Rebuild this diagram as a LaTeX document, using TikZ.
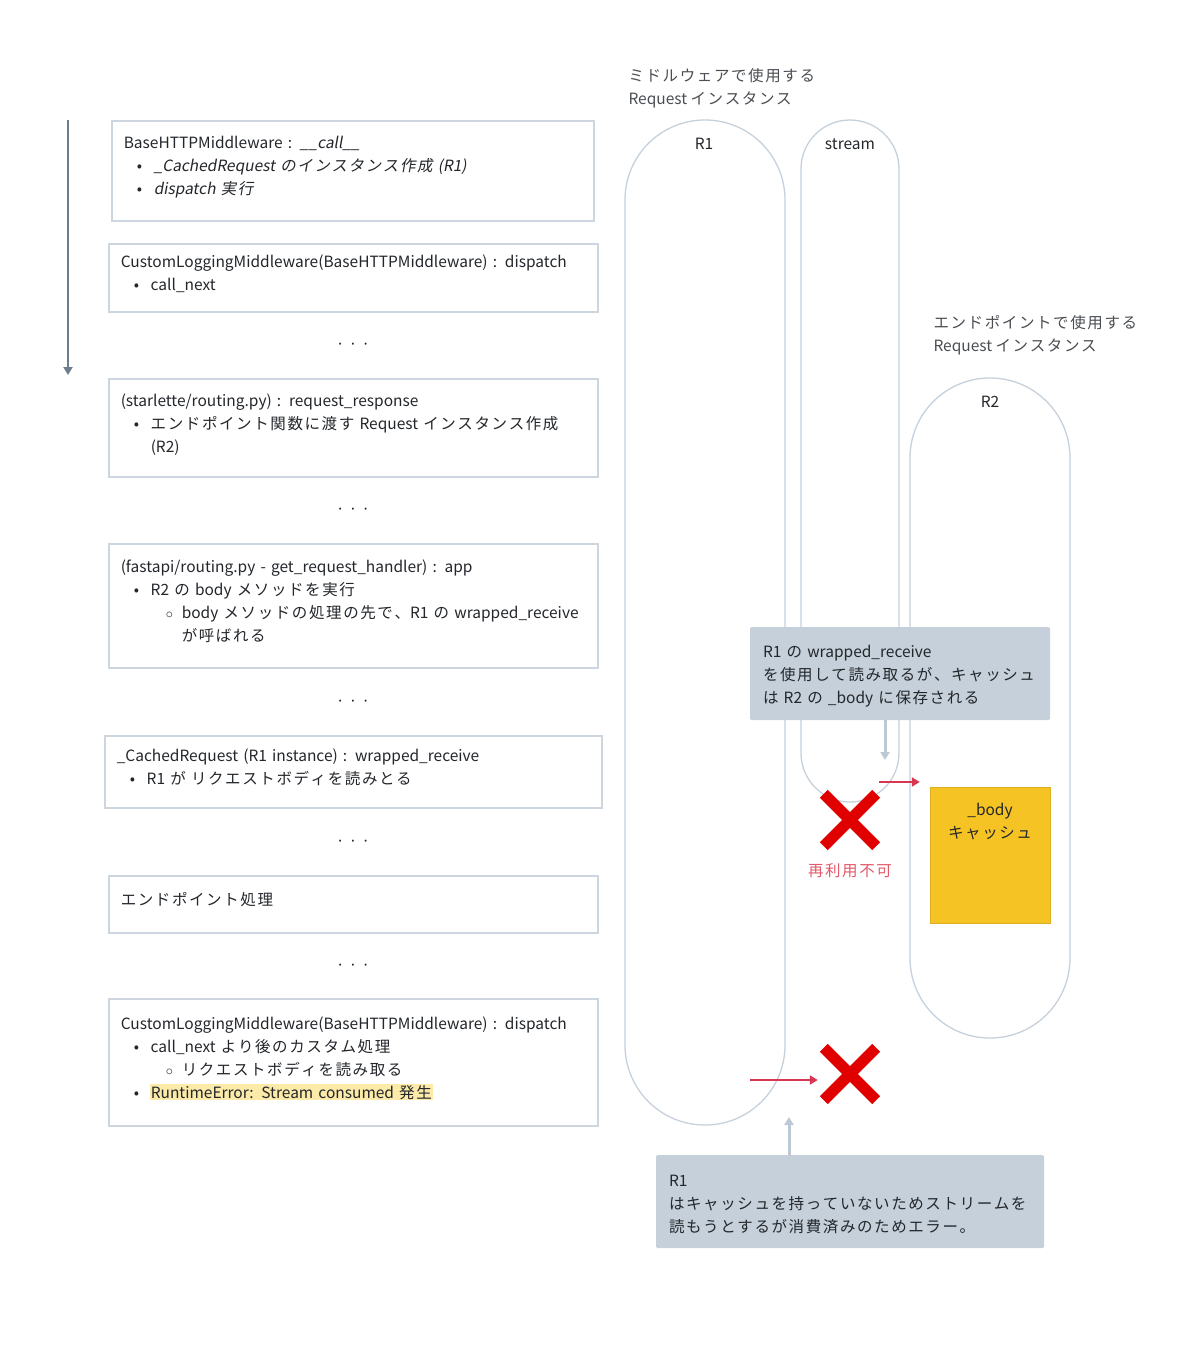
\documentclass[tikz,border=0pt]{standalone}
\usepackage{fontspec}
\setmainfont{Noto Sans CJK JP}[ItalicFont={Noto Sans CJK JP},ItalicFeatures={FakeSlant=0.18}]
\usepackage{tikz}
\usetikzlibrary{positioning,arrows.meta}
\usepackage{xcolor}
\definecolor{boxline}{HTML}{CDD6DF}
\definecolor{pillline}{HTML}{C6D1DC}
\definecolor{notefill}{HTML}{C5D0DA}
\definecolor{notearrow}{HTML}{BCC9D5}
\definecolor{txt}{HTML}{23262B}
\definecolor{headtxt}{HTML}{4A4E53}
\definecolor{timeline}{HTML}{6E7D8C}
\definecolor{xred}{HTML}{E00000}
\definecolor{redarrow}{HTML}{D8384F}
\definecolor{reusetxt}{HTML}{E2596A}
\definecolor{cache}{HTML}{F6C324}
\definecolor{hilite}{HTML}{FCEAA8}
% wider tracking between Japanese characters
\XeTeXinterchartokenstate=1
\newXeTeXintercharclass\cjkchar
\newcount\cjkcode
\newcommand{\cjkrange}[2]{\cjkcode=#1\relax\loop\XeTeXcharclass\cjkcode=\cjkchar\ifnum\cjkcode<#2\advance\cjkcode by 1\repeat}
\cjkrange{"3000}{"30FF}
\cjkrange{"4E00}{"9FFF}
\cjkrange{"FF00}{"FFEF}
\XeTeXinterchartoks\cjkchar\cjkchar={\kern1.6pt}
\newcommand{\bul}{\hspace*{13pt}\makebox[17pt][l]{•}}
\newcommand{\subbul}{\hspace*{45pt}\makebox[16pt][l]{$\circ$}}
\newcommand{\hang}[1]{\hspace*{#1pt}}
\newcommand{\threedots}{{\fontsize{8}{8}\selectfont •\hspace{10pt}•\hspace{10pt}•}}

\begin{document}
\begin{tikzpicture}[x=1pt,y=-1pt,>={Triangle[length=8pt,width=9pt]},
  font=\fontsize{15.5}{23}\selectfont, text=txt,
  stepbox/.style={draw=boxline,line width=1.5pt,fill=white,anchor=north west,align=left,inner xsep=12pt,inner ysep=0pt,execute at end node={\rule[-10pt]{0pt}{1pt}}},
  pill/.style={draw=pillline,line width=1.3pt,inner sep=0pt},
  note/.style={fill=notefill,rounded corners=1.5pt,align=left,inner xsep=13pt,inner ysep=0pt,execute at begin node={\rule{0pt}{17pt}}},
  head/.style={anchor=west,align=left,text=headtxt},
  dots/.style={text=txt},
  redx/.style={minimum size=52pt,inner sep=0pt},
  xbar/.style={line width=11pt,xred},
  redline/.style={->,line width=2.2pt,redarrow},
  noteline/.style={->,line width=3pt,notearrow}]
\useasboundingbox[fill=white] (0,0) rectangle (1200,1345);

% timeline
\coordinate (tl0) at (68,120);
\coordinate (tl1) at (68,375);
\draw[->,line width=2.5pt,timeline] (tl0) -- (tl1);

% call chain
\node[stepbox,text width=458pt,minimum height=100pt] (mw) at (111,120) {BaseHTTPMiddleware : \textit{\_\_call\_\_}\\ \bul\textit{\_CachedRequest のインスタンス作成 (R1)}\\ \bul\textit{dispatch 実行}};
\node[stepbox,text width=465pt,minimum height=68pt] (logmw) at (108,243) {CustomLoggingMiddleware(BaseHTTPMiddleware) : dispatch\\ \bul call\_next};
\node[dots] (d1) at (353,345) {\threedots};
\node[stepbox,text width=465pt,minimum height=98pt] (reqresp) at (108,378) {(starlette/routing.py) : request\_response\\ \bul エンドポイント関数に渡す Request インスタンス作成\\ \hang{30}(R2)};
\node[dots] (d2) at (353,510) {\threedots};
\node[stepbox,text width=465pt,minimum height=124pt] (app) at (108,543) {(fastapi/routing.py - get\_request\_handler) : app\\ \bul R2 の body メソッドを実行\\ \subbul body メソッドの処理の先で、R1 の wrapped\_receive\\ \hang{61}が呼ばれる};
\node[dots] (d3) at (353,702) {\threedots};
\node[stepbox,text width=473pt,minimum height=72pt] (wrapped) at (104,735) {\_CachedRequest (R1 instance) : wrapped\_receive\\ \bul R1 が リクエストボディを読みとる};
\node[dots] (d4) at (353,842) {\threedots};
\node[stepbox,text width=465pt,minimum height=57pt] (endpoint) at (108,875) {エンドポイント処理};
\node[dots] (d5) at (353,966) {\threedots};
\node[stepbox,text width=465pt,minimum height=127pt] (logmw2) at (108,998) {CustomLoggingMiddleware(BaseHTTPMiddleware) : dispatch\\ \bul call\_next より後のカスタム処理\\ \subbul リクエストボディを読み取る\\ \bul{\fboxsep=1pt\hspace*{-1pt}\colorbox{hilite}{RuntimeError: Stream consumed 発生}}};

% request instances
\node[head] (mwhead) at (625,88.5) {ミドルウェアで使用する\\Request インスタンス};
\node[pill,minimum width=160pt,minimum height=1005pt,rounded corners=79.9pt] (r1) at (705,622.5) {};
\node (r1txt) at (704,144) {R1};
\node[pill,minimum width=98pt,minimum height=682pt,rounded corners=48.9pt] (stream) at (850,461) {};
\node (streamtxt) at (850,144) {stream};
\node[head] (ephead) at (930,335.5) {エンドポイントで使用する\\Request インスタンス};
\node[pill,minimum width=160pt,minimum height=660pt,rounded corners=79.9pt] (r2) at (990,708) {};
\node (r2txt) at (990,402) {R2};

% R2 side: cache
\node[note,minimum width=300pt,minimum height=93pt,text width=274pt] (note1) at (900,673.5) {R1 の wrapped\_receive\\を使用して読み取るが、キャッシュ\\は R2 の \_body に保存される};
\coordinate (n1end) at (885,760);
\draw[noteline] (n1end |- note1.south) -- (n1end);
\node[fill=cache,draw=cache!90!black,line width=0.4pt,minimum width=120pt,minimum height=136pt,inner sep=0pt] (body) at (990,855) {};
\node[align=center] (bodytxt) at (990,822) {\_body\\キャッシュ};
\coordinate (ra1) at (879,782);
\draw[redline] (ra1) -- (ra1 -| body.west) [shorten >=10pt];
\node[redx] (x1) at (850,820) {};
\draw[xbar] (x1.north west) -- (x1.south east) (x1.north east) -- (x1.south west);
\node[text=reusetxt] (reuse) at (850,871) {再利用不可};

% R1 side: error
\node[redx] (x2) at (850,1074) {};
\draw[xbar] (x2.north west) -- (x2.south east) (x2.north east) -- (x2.south west);
\coordinate (ra2) at (750,1080);
\draw[redline] (ra2) -- (ra2 -| x2.west) [shorten >=6pt];
\node[note,minimum width=388pt,minimum height=93pt,text width=362pt] (note2) at (850,1201.5) {R1\\はキャッシュを持っていないためストリームを\\読もうとするが消費済みのためエラー。};
\coordinate (n2end) at (789,1117);
\draw[noteline] (n2end |- note2.north) -- (n2end);
\end{tikzpicture}
\end{document}
